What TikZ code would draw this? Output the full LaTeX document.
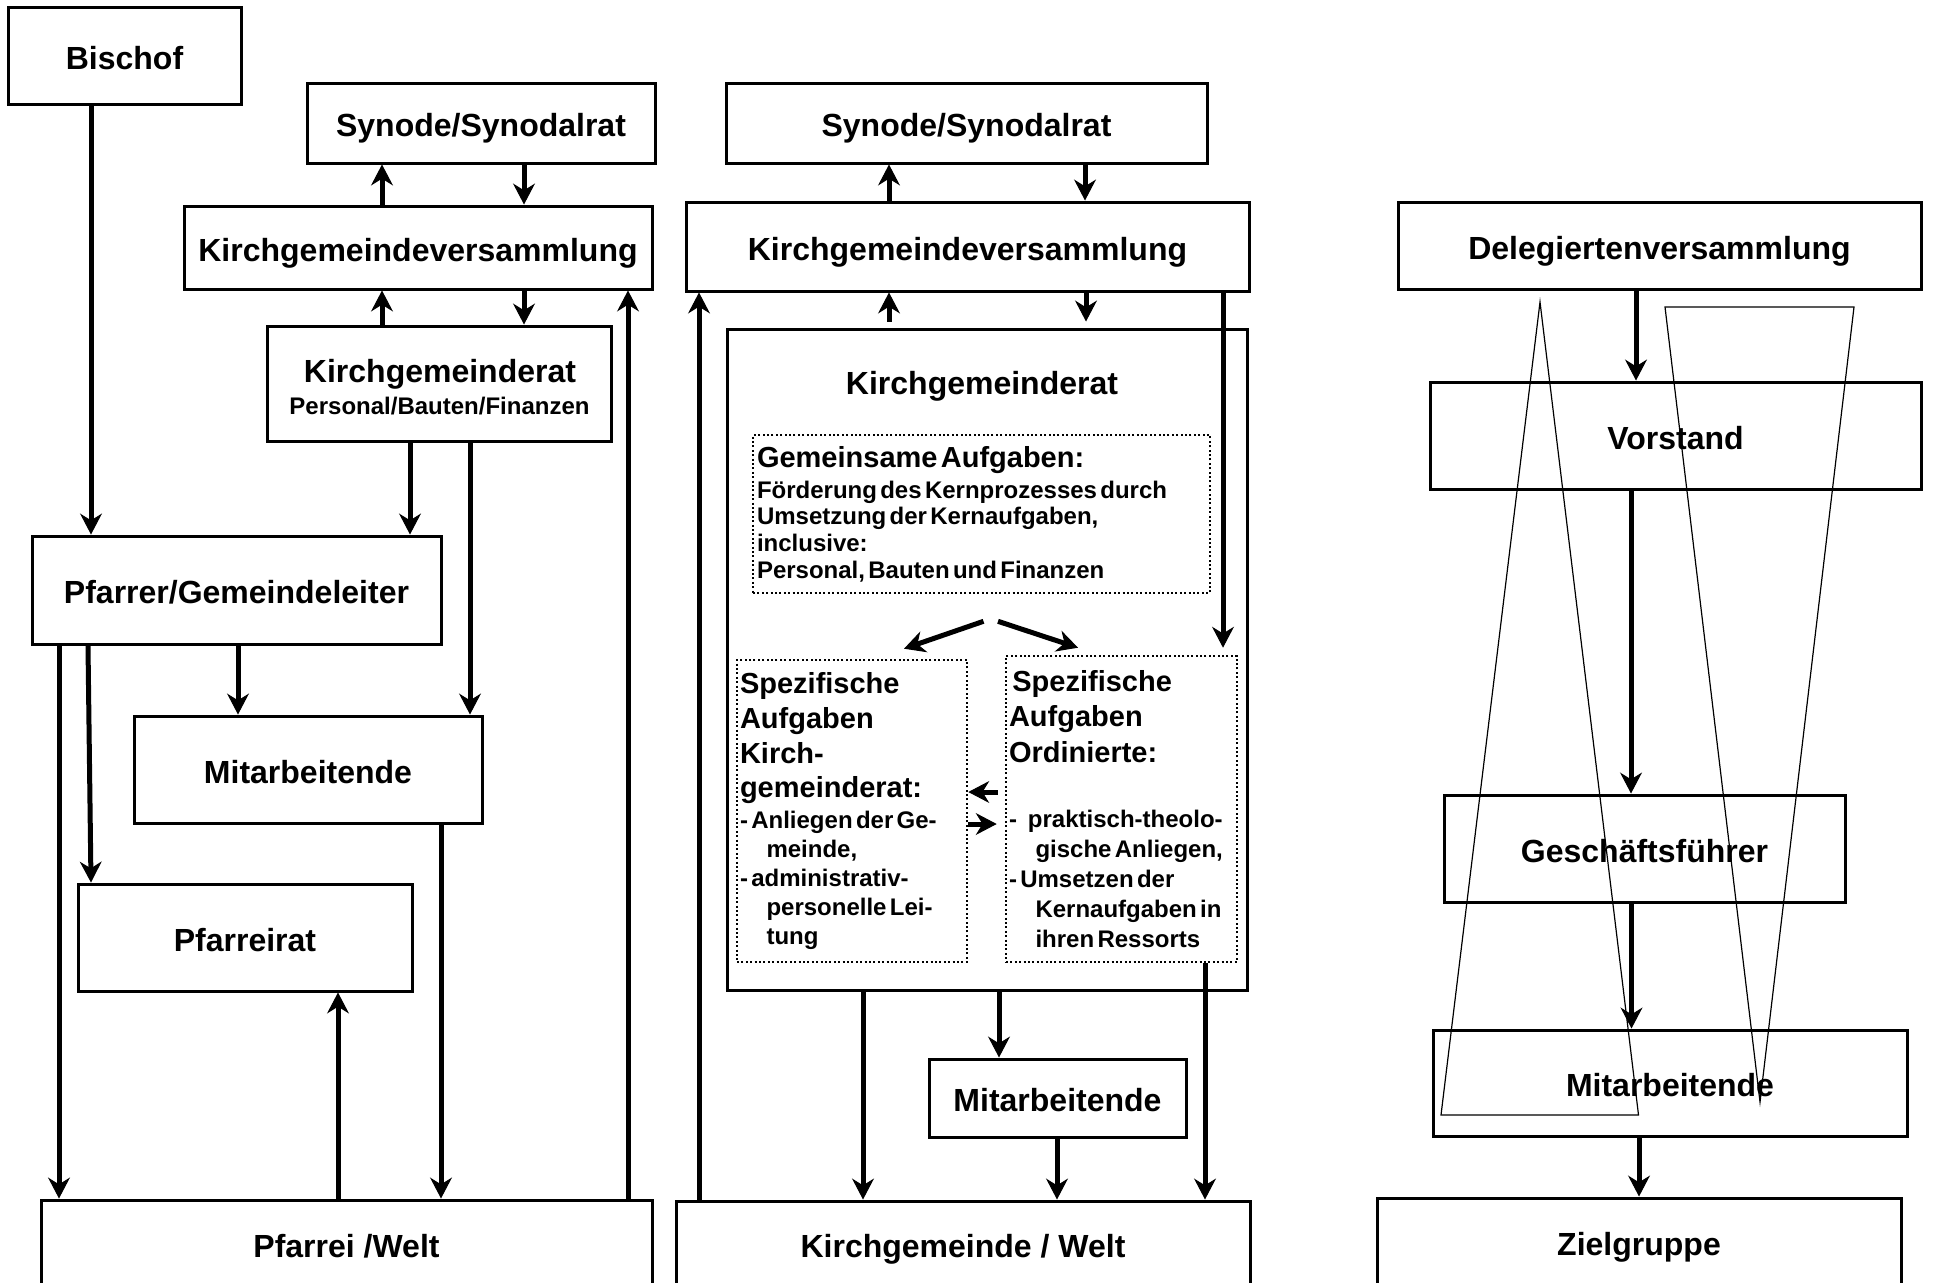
\documentclass[tikz,border=0pt]{standalone}
\usepackage{fontspec}
\setmainfont{Liberation Sans}
\usepackage{tikz}
\usetikzlibrary{arrows.meta,positioning}

\newcommand{\kgHead}[1][34.7]{\fontsize{29}{#1}\selectfont}
\newcommand{\kgBody}[1][29]{\fontsize{24}{#1}\selectfont}
\newcommand{\kgIn}{\hspace*{26.5pt}}

\begin{document}
\begin{tikzpicture}[
    x=1pt, y=-1pt,
    % Style definitions
    box/.style={draw, line width=3pt, inner sep=0pt, font=\bfseries\fontsize{32}{38}\selectfont, text height=27pt, text depth=0pt},
    headline/.style={inner sep=0pt, font=\bfseries\fontsize{32}{38}\selectfont, text height=23pt, text depth=0pt},
    subline/.style={inner sep=0pt, font=\bfseries\fontsize{24}{29}\selectfont, text height=17pt, text depth=0pt},
    taskbox/.style={draw, line width=2.6pt, dash pattern=on 2pt off 2.4pt, inner xsep=3pt, inner ysep=0pt, align=left, font=\bfseries},
    arrow/.style={-{Stealth[length=21pt, width=22pt, line width=1pt]}, line width=5pt},
    outline/.style={line width=1.2pt, line join=miter}
]
\useasboundingbox (0,0) rectangle (1945,1282);
\clip (0,0) rectangle (1945,1282);

% Left column: Pfarrei
\node[box, minimum width=233pt, minimum height=97pt] (bischof) at (124.5,55.5) {Bischof};
\node[box, minimum width=348pt, minimum height=80pt] (synL) at (481,123) {Synode/Synodalrat};
\node[box, minimum width=468pt, minimum height=83pt] (kgvL) at (418,247.5) {Kirchgemeindeversammlung};
\node[box, minimum width=344pt, minimum height=115pt] (kgrL) at (439,383.5) {};
\node[headline] (kgrLtitle) at (440,371) {Kirchgemeinderat};
\node[subline] (kgrLsub) at (439.5,405.5) {Personal/Bauten/Finanzen};
\node[box, minimum width=409pt, minimum height=108pt] (pfarrer) at (236.5,590) {Pfarrer/Gemeindeleiter};
\node[box, minimum width=348pt, minimum height=107pt] (mitL) at (308,769.5) {Mitarbeitende};
\node[box, minimum width=334pt, minimum height=107pt] (pfarreirat) at (245,937.5) {Pfarreirat};
\node[box, minimum width=611pt, minimum height=88pt] (pfarrei) at (346.5,1244) {Pfarrei /Welt};

% Middle column: Kirchgemeinde
\node[box, minimum width=481pt, minimum height=80pt] (synM) at (966.5,123) {Synode/Synodalrat};
\node[box, minimum width=563pt, minimum height=89pt] (kgvM) at (967.5,246.5) {Kirchgemeindeversammlung};
\node[box, minimum width=520pt, minimum height=661pt] (kgrM) at (987,659.5) {};
\node[headline] (kgrMtitle) at (982,382.5) {Kirchgemeinderat};
\node[taskbox, text width=449pt, inner xsep=4pt, minimum height=158pt] (gem) at (981.5,514) {%
    {\kgHead Gemeinsame Aufgaben:\par}\vspace{4.3pt}%
    {\kgBody[26.7] Förderung des Kernprozesses durch\\ Umsetzung der Kernaufgaben,\\ inclusive:\\ Personal, Bauten und Finanzen\par}};
\node[taskbox, text width=224pt, minimum height=302pt] (specL) at (852,811) {%
    {\kgHead Spezifische\\ Aufgaben\\ Kirch-\\ gemeinderat:\par}\vspace{1.4pt}%
    {\kgBody - Anliegen der Ge-\\ \kgIn meinde,\\ - administrativ-\\ \kgIn personelle Lei-\\ \kgIn tung\par}};
\node[taskbox, text width=225pt, minimum height=306pt] (specR) at (1121.5,809) {%
    {\kgHead[35.5] Spezifische\\ Aufgaben\\ Ordinierte:\par}\vspace{35.7pt}%
    {\kgBody[30] -\hspace{11pt}praktisch-theolo-\\ \kgIn gische Anliegen,\\ - Umsetzen der\\ \kgIn Kernaufgaben in\\ \kgIn ihren Ressorts\par}};
\node[box, minimum width=257pt, minimum height=78pt] (mitM) at (1057.5,1098) {Mitarbeitende};
\node[box, minimum width=574pt, minimum height=86pt] (kw) at (963,1244) {Kirchgemeinde / Welt};

% Right column: Verein
\node[box, minimum width=523pt, minimum height=87pt] (deleg) at (1659.5,245.5) {Delegiertenversammlung};
\node[box, minimum width=491pt, minimum height=107pt] (vorstand) at (1675.5,435.5) {Vorstand};
\node[box, minimum width=401pt, minimum height=107pt] (gf) at (1644.5,848.5) {Geschäftsführer};
\node[box, minimum width=474pt, minimum height=106pt] (mitR) at (1670,1083) {Mitarbeitende};
\node[box, minimum width=524pt, minimum height=87pt] (ziel) at (1639,1241.5) {Zielgruppe};

% Connections left
\draw[arrow] (bischof.south -| 91,0) -- (pfarrer.north -| 91,0);
\draw[arrow] (kgvL.north -| 382,0) -- (synL.south -| 382,0);
\draw[arrow] (synL.south -| 524,0) -- (kgvL.north -| 524,0);
\draw[arrow] (kgrL.north -| 382,0) -- (kgvL.south -| 382,0);
\draw[arrow] (kgvL.south -| 524,0) -- (kgrL.north -| 524,0);
\draw[arrow] (kgrL.south -| 410,0) -- (pfarrer.north -| 410,0);
\draw[arrow] (kgrL.south -| 470,0) -- (mitL.north -| 470,0);
\draw[arrow] (pfarrer.south -| 238,0) -- (mitL.north -| 238,0);
\draw[arrow] (pfarrer.south -| 88,0) -- (pfarreirat.north -| 91,0);
\draw[arrow] (pfarrer.south -| 59,0) -- (pfarrei.north -| 59,0);
\draw[arrow] (mitL.south -| 441,0) -- (pfarrei.north -| 441,0);
\draw[arrow] (pfarrei.north -| 338,0) -- (pfarreirat.south -| 338,0);
\draw[arrow] (pfarrei.north -| 628,0) -- (kgvL.south -| 628,0);

% Connections middle
\draw[arrow] (kgvM.north -| 889,0) -- (synM.south -| 889,0);
\draw[arrow] (synM.south -| 1085,0) -- (kgvM.north -| 1085,0);
\draw[arrow, shorten <=6pt] (kgrM.north -| 889,0) -- (kgvM.south -| 889,0);
\draw[arrow, shorten >=6pt] (kgvM.south -| 1086,0) -- (kgrM.north -| 1086,0);
\draw[arrow] (kw.north -| 699,0) -- (kgvM.south -| 699,0);
\draw[arrow, shorten >=7pt] (kgvM.south -| 1223,0) -- (specR.north -| 1223,0);
\draw[arrow] ([shift={(2,27)}]gem.south) -- ([shift={(52,-10)}]specL.north);
\draw[arrow] ([shift={(16.5,27)}]gem.south) -- ([shift={(-43.5,-7)}]specR.north);
\draw[arrow, shorten <=7pt] (specR.west |- 0,792) -- (specL.east |- 0,792);
\draw[arrow, shorten >=8pt] (specL.east |- 0,824) -- (specR.west |- 0,824);
\draw[arrow] (kgrM.south -| 863,0) -- (kw.north -| 863,0);
\draw[arrow] (kgrM.south -| 999,0) -- (mitM.north -| 999,0);
\draw[arrow] (mitM.south -| 1057,0) -- (kw.north -| 1057,0);
\draw[arrow] (specR.south -| 1205,0) -- (kw.north -| 1205,0);

% Connections right
\draw[arrow] (deleg.south -| 1636,0) -- (vorstand.north -| 1636,0);
\draw[arrow] (vorstand.south -| 1631,0) -- (gf.north -| 1631,0);
\draw[arrow] (gf.south -| 1631.5,0) -- (mitR.north -| 1631.5,0);
\draw[arrow] (mitR.south -| 1639,0) -- (ziel.north -| 1639,0);

% Outline shapes over the right column
\draw[outline] (1540,302) -- (1441,1115) -- (1638.5,1115) -- cycle;
\draw[outline] (1665,307) -- (1854,307) -- (1760,1102) -- cycle;

\end{tikzpicture}
\end{document}
